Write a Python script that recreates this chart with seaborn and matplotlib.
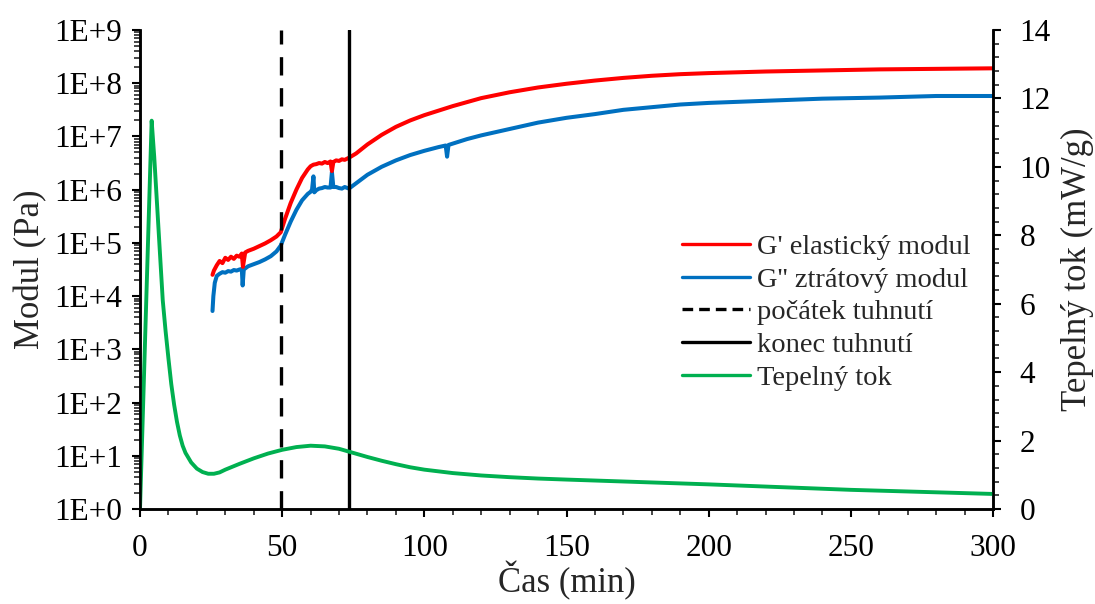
import numpy as np
import pandas as pd
import matplotlib
matplotlib.use("Agg")
import matplotlib.pyplot as plt
from matplotlib.ticker import FuncFormatter, MultipleLocator, LogLocator, NullFormatter
from matplotlib.lines import Line2D
import seaborn as sns

# G' elastic modulus (log10 Pa)
t_g1 = [25.5, 26, 27, 28, 29, 30, 31, 32, 33, 34, 35, 35.8, 36.2, 37, 38, 40, 42, 44, 46, 48,
        49.5, 51, 53, 55, 57, 59, 60, 61, 62, 63, 64, 65, 66, 67, 67.5, 68, 69, 70, 71, 72,
        73.5, 76, 80, 85, 90, 95, 100, 110, 120, 130, 140, 150, 160, 170, 180, 190, 200,
        220, 240, 260, 280, 300]
log_g1 = [4.40, 4.48, 4.58, 4.66, 4.62, 4.72, 4.68, 4.74, 4.70, 4.76, 4.74, 4.80, 4.55, 4.82,
          4.85, 4.89, 4.94, 4.99, 5.05, 5.12, 5.20, 5.45, 5.75, 6.00, 6.22, 6.38, 6.44, 6.47,
          6.48, 6.50, 6.49, 6.52, 6.50, 6.53, 6.35, 6.52, 6.55, 6.54, 6.57, 6.56, 6.60, 6.68,
          6.85, 7.03, 7.18, 7.30, 7.40, 7.57, 7.72, 7.83, 7.92, 7.99, 8.05, 8.10, 8.14, 8.17,
          8.19, 8.22, 8.24, 8.26, 8.27, 8.28]

# G'' loss modulus (log10 Pa)
t_g2 = [25.5, 25.8, 26.3, 27, 28, 29, 30, 31, 32, 33, 34, 35, 35.8, 36.1, 36.5, 38, 40, 42, 44,
        46, 48, 49.5, 51, 53, 55, 57, 59, 60, 60.5, 61, 61.3, 62, 63, 64, 65, 66, 67, 67.5, 68,
        69, 70, 71, 72, 73.5, 76, 80, 85, 90, 95, 100, 105, 107.5, 108, 108.5, 115, 120, 130,
        140, 150, 160, 170, 180, 190, 200, 220, 240, 260, 280, 300]
log_g2 = [3.72, 4.00, 4.25, 4.38, 4.42, 4.45, 4.44, 4.47, 4.46, 4.49, 4.48, 4.50, 4.51, 4.20,
          4.50, 4.56, 4.60, 4.64, 4.69, 4.75, 4.84, 4.95, 5.15, 5.40, 5.62, 5.80, 5.92, 5.96,
          6.00, 6.25, 5.95, 5.99, 6.02, 6.03, 6.05, 6.04, 6.04, 6.33, 6.05, 6.05, 6.03, 6.02,
          6.05, 6.02, 6.12, 6.28, 6.43, 6.55, 6.65, 6.73, 6.80, 6.83, 6.62, 6.84, 6.95, 7.02,
          7.14, 7.26, 7.35, 7.42, 7.50, 7.55, 7.60, 7.63, 7.67, 7.71, 7.73, 7.76, 7.76]

# heat flow (mW/g)
t_heat = [0, 4.1, 5, 6, 7, 8, 9, 10, 11, 12, 13, 14, 15, 16, 18, 20, 22, 24, 26, 28, 30, 35,
          40, 45, 50, 55, 60, 65, 70, 75, 80, 85, 90, 95, 100, 110, 120, 130, 140, 150, 175,
          200, 225, 250, 275, 300]
heat = [0, 11.35, 10.3, 8.9, 7.5, 6.1, 5.2, 4.4, 3.65, 3.05, 2.55, 2.15, 1.85, 1.64, 1.36,
        1.18, 1.08, 1.03, 1.03, 1.07, 1.15, 1.32, 1.48, 1.62, 1.73, 1.81, 1.85, 1.83, 1.76,
        1.64, 1.52, 1.41, 1.31, 1.22, 1.15, 1.05, 0.98, 0.93, 0.89, 0.86, 0.79, 0.72, 0.64,
        0.56, 0.50, 0.44]

t_start = 49.5   # počátek tuhnutí
t_end = 73.5     # konec tuhnutí

df_g1 = pd.DataFrame({"t": t_g1, "G": 10 ** np.array(log_g1)})
df_g2 = pd.DataFrame({"t": t_g2, "G": 10 ** np.array(log_g2)})
df_heat = pd.DataFrame({"t": t_heat, "q": heat})

sns.set_theme(style="ticks")
plt.rcParams["font.family"] = ["Liberation Serif", "DejaVu Serif"]

c_red = "#FF0000"
c_blue = "#0070C0"
c_green = "#00B050"

fig, ax1 = plt.subplots(figsize=(10.95, 6.04), dpi=100)
fig.subplots_adjust(left=140 / 1095, right=993 / 1095, top=1 - 30 / 604, bottom=1 - 509 / 604)
ax2 = ax1.twinx()

ax1.set_yscale("log")
sns.lineplot(data=df_g2, x="t", y="G", ax=ax1, color=c_blue, lw=2.9)
sns.lineplot(data=df_g1, x="t", y="G", ax=ax1, color=c_red, lw=2.9)
ax1.plot([t_start, t_start], [1, 1e9], color="black", lw=2.4, dashes=(5.5, 3.8))
ax1.plot([t_end, t_end], [1, 1e9], color="black", lw=2.4)

sns.lineplot(data=df_heat, x="t", y="q", ax=ax2, color=c_green, lw=2.8)

ax1.set_xlim(0, 300)
ax1.set_ylim(1, 1e9)
ax2.set_ylim(0, 14)

ax1.xaxis.set_major_locator(MultipleLocator(50))
ax1.xaxis.set_minor_locator(MultipleLocator(10))
ax1.yaxis.set_major_locator(LogLocator(base=10, numticks=20))
ax1.yaxis.set_minor_locator(LogLocator(base=10, subs=np.arange(2, 10), numticks=20))
ax1.yaxis.set_minor_formatter(NullFormatter())
ax1.yaxis.set_major_formatter(FuncFormatter(lambda v, p: f"1E+{int(round(np.log10(v)))}"))
ax2.yaxis.set_major_locator(MultipleLocator(2))
ax2.yaxis.set_minor_locator(MultipleLocator(0.4))

for ax in (ax1, ax2):
    ax.tick_params(which="major", direction="out", length=6, width=1.5, labelsize=22.5,
                   colors="black")
    ax.tick_params(which="minor", direction="out", length=4, width=1.2)
    for s in ax.spines.values():
        s.set_linewidth(1.8)
        s.set_color("black")
    ax.spines["top"].set_visible(False)
ax1.tick_params(axis="x", which="major", pad=12)
ax1.tick_params(axis="y", which="major", pad=7)
ax2.tick_params(axis="y", which="major", pad=13)

ax1.set_xlabel("Čas (min)", fontsize=25)
ax1.set_ylabel("Modul (Pa)", fontsize=25)
ax2.set_ylabel("Tepelný tok (mW/g)", fontsize=25)
ax1.xaxis.set_label_coords(0.5, -0.108)
ax1.yaxis.set_label_coords(-0.109, 0.5)
ax2.yaxis.set_label_coords(1.080, 0.5)

handles = [
    Line2D([], [], color=c_red, lw=2.4),
    Line2D([], [], color=c_blue, lw=2.4),
    Line2D([], [], color="black", lw=2.4, dashes=(3.2, 1.8)),
    Line2D([], [], color="black", lw=2.4),
    Line2D([], [], color=c_green, lw=2.4),
]
labels = ["G' elastický modul", "G'' ztrátový modul", "počátek tuhnutí", "konec tuhnutí", "Tepelný tok"]
ax2.legend(handles, labels, loc="upper left", bbox_to_anchor=(682 / 1095, 1 - 234 / 604),
           bbox_transform=fig.transFigure, frameon=False, fontsize=20.5, handlelength=2.4,
           handletextpad=0.25, labelspacing=0.24, borderpad=0, borderaxespad=0)

plt.savefig("out.png", dpi=100)
plt.close()
